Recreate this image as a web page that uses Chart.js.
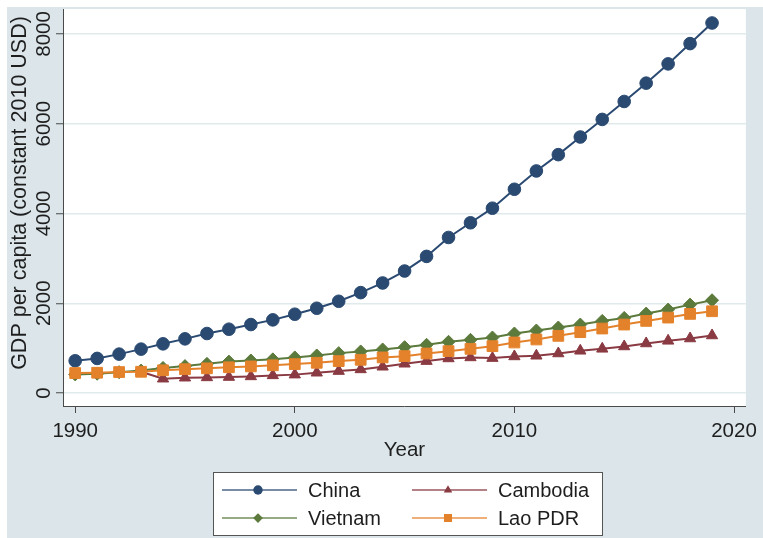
<!DOCTYPE html>
<html>
<head>
<meta charset="utf-8">
<title>GDP per capita</title>
<script src="https://cdn.jsdelivr.net/npm/chart.js@4.4.1/dist/chart.umd.min.js"></script>
<style>
  html, body { margin: 0; padding: 0; background: #ffffff; }
  #gdpChart { display: block; }
</style>
</head>
<body>
<canvas id="gdpChart" width="763" height="538"></canvas>
<script>
// GDP per capita, constant 2010 USD
const years = [1990, 1991, 1992, 1993, 1994, 1995, 1996, 1997, 1998, 1999,
               2000, 2001, 2002, 2003, 2004, 2005, 2006, 2007, 2008, 2009,
               2010, 2011, 2012, 2013, 2014, 2015, 2016, 2017, 2018, 2019];

const china = [718, 771, 867, 978, 1096, 1207, 1326, 1422, 1526, 1630,
               1756, 1889, 2044, 2237, 2452, 2718, 3044, 3466, 3793, 4118,
               4540, 4948, 5311, 5704, 6096, 6496, 6904, 7333, 7785, 8244];

const cambodia = [null, null, null, 474, 319, 341, 348, 356, 370, 393,
                  410, 452, 489, 526, 585, 652, 711, 770, 793, 778,
                  815, 830, 881, 941, 985, 1037, 1104, 1163, 1215, 1282];

const vietnam = [415, 430, 465, 500, 560, 600, 650, 700, 725, 750,
                 793, 837, 889, 926, 970, 1022, 1074, 1141, 1185, 1237,
                 1326, 1393, 1459, 1526, 1607, 1674, 1770, 1859, 1970, 2067];

const laoPdr = [445, 452, 467, 474, 507, 530, 550, 574, 593, 618,
                644, 674, 711, 741, 793, 822, 881, 933, 985, 1044,
                1126, 1193, 1274, 1356, 1437, 1526, 1607, 1681, 1763, 1822];

const xTicks = [1990, 2000, 2010, 2020];
const yTicks = [0, 2000, 4000, 6000, 8000];

const FONT = '"Liberation Sans", Arial, sans-serif';
const TEXT = '#1e1e1e';
const AXIS = '#4a4a4a';

// series styles; legend and datasets share them
const series = [
  { label: 'China',    data: china,    color: '#2a4a72', point: 'circle',   radius: 6.3, order: 3, col: 0, row: 0 },
  { label: 'Cambodia', data: cambodia, color: '#8a3a42', point: 'triangle', radius: 6.5, order: 2, col: 1, row: 0 },
  { label: 'Vietnam',  data: vietnam,  color: '#5b7a3c', point: 'rectRot',  radius: 6.5, order: 1, col: 0, row: 1 },
  { label: 'Lao PDR',  data: laoPdr,   color: '#e4822b', point: 'rect',     radius: 7.6, order: 0, col: 1, row: 1 }
];

const datasets = series.map(s => ({
  label: s.label,
  data: years.map((yr, i) => ({ x: yr, y: s.data[i] })),
  borderColor: s.color,
  backgroundColor: s.color,
  borderWidth: 2,
  pointStyle: s.point,
  pointRadius: s.radius,
  pointBackgroundColor: s.color,
  pointBorderColor: s.color,
  pointBorderWidth: 1,
  spanGaps: false,
  tension: 0,
  order: s.order
}));

// background, plot region, y title and the boxed legend
const stataFrame = {
  id: 'stataFrame',
  beforeDraw(chart) {
    const { ctx, chartArea } = chart;
    ctx.save();
    ctx.fillStyle = '#ffffff';
    ctx.fillRect(0, 0, chart.width, chart.height);
    ctx.fillStyle = '#dce6ea';
    ctx.fillRect(7, 7, chart.width - 7, chart.height - 7);
    ctx.fillStyle = '#ffffff';
    ctx.fillRect(chartArea.left, chartArea.top, chartArea.right - chartArea.left, chartArea.bottom - chartArea.top);
    ctx.restore();
  },
  afterDraw(chart) {
    const { ctx } = chart;
    ctx.save();
    // y axis title
    ctx.translate(20, 193);
    ctx.rotate(-Math.PI / 2);
    ctx.font = '21.5px ' + FONT;
    ctx.fillStyle = TEXT;
    ctx.textAlign = 'center';
    ctx.textBaseline = 'middle';
    ctx.fillText('GDP per capita (constant 2010 USD)', 0, 0);
    ctx.restore();

    // legend box
    ctx.save();
    ctx.fillStyle = '#ffffff';
    ctx.fillRect(213.5, 472.5, 389, 63);
    ctx.strokeStyle = '#555555';
    ctx.lineWidth = 1;
    ctx.strokeRect(213.5, 472.5, 389, 63);

    const colX = [222, 412];
    const rowY = [490, 518];
    ctx.font = '20px ' + FONT;
    ctx.textBaseline = 'middle';
    ctx.textAlign = 'left';
    series.forEach(s => {
      const x0 = colX[s.col];
      const y = rowY[s.row];
      ctx.strokeStyle = s.color;
      ctx.globalAlpha = 0.85;
      ctx.lineWidth = 1.6;
      ctx.beginPath();
      ctx.moveTo(x0, y);
      ctx.lineTo(x0 + 75, y);
      ctx.stroke();
      ctx.globalAlpha = 1;
      ctx.fillStyle = s.color;
      Chart.helpers.drawPoint(ctx, {
        pointStyle: s.point,
        radius: s.radius * 0.75,
        rotation: 0,
        borderWidth: 0
      }, x0 + 36, y);
      ctx.fillStyle = TEXT;
      ctx.fillText(s.label, x0 + 86, y + 1);
    });
    ctx.restore();
  }
};

new Chart(document.getElementById('gdpChart'), {
  type: 'line',
  data: { datasets },
  options: {
    responsive: false,
    animation: false,
    devicePixelRatio: 1,
    layout: { padding: { top: 9, right: 11, bottom: 0, left: 0 } },
    plugins: {
      legend: { display: false },
      tooltip: { enabled: false }
    },
    scales: {
      x: {
        type: 'linear',
        min: 1989.445,
        max: 2020.54,
        afterBuildTicks: scale => { scale.ticks = xTicks.map(v => ({ value: v })); },
        afterFit: scale => { scale.height = 132; },
        grid: {
          drawOnChartArea: false,
          drawTicks: true,
          tickLength: 7,
          tickColor: AXIS,
          tickWidth: 1
        },
        border: { display: true, color: AXIS, width: 1 },
        ticks: {
          color: TEXT,
          font: { family: FONT, size: 20.5 },
          padding: 6,
          maxRotation: 0,
          callback: v => String(v)
        },
        title: {
          display: true,
          text: 'Year',
          color: TEXT,
          font: { family: FONT, size: 20.5 },
          padding: { top: 0, bottom: 75 }
        }
      },
      y: {
        type: 'linear',
        min: -289,
        max: 8556,
        afterBuildTicks: scale => { scale.ticks = yTicks.map(v => ({ value: v })); },
        afterFit: scale => { scale.width = 63; },
        grid: {
          color: '#e0e9ec',
          lineWidth: 1.5,
          drawTicks: true,
          tickLength: 7,
          tickColor: AXIS,
          tickWidth: 1
        },
        border: { display: true, color: AXIS, width: 1 },
        ticks: {
          color: TEXT,
          font: { family: FONT, size: 20.5 },
          minRotation: 90,
          maxRotation: 90,
          crossAlign: 'center',
          padding: -11.5,
          callback: v => String(v)
        }
      }
    }
  },
  plugins: [stataFrame]
});
</script>
</body>
</html>
